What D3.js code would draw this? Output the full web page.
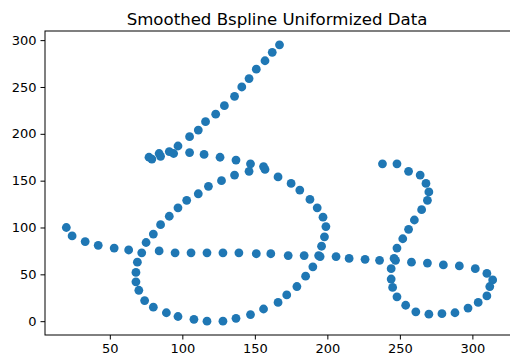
<!DOCTYPE html>
<html>
<head>
<meta charset="utf-8">
<script src="https://cdn.jsdelivr.net/npm/d3@7"></script>
<style>
  body { margin: 0; background: #fff; }
  .axis text { font-family: "DejaVu Sans", sans-serif; font-size: 13px; fill: #000; }
  .axis path, .axis line { stroke: #000; stroke-width: 1; }
  .title { font-family: "DejaVu Sans", sans-serif; font-size: 16.6px; fill: #000; }
</style>
</head>
<body>
<div id="chart"></div>
<script>
// points of the smoothed bspline
const xs = [
  167, 162, 157, 151, 146, 141, 136, 129, 123, 116, 111, 105, 97, 91, 84, 77, 79, 85, 94, 105,
  115, 126, 137, 147, 156, 166, 175, 181, 188, 193, 197, 199, 198, 196, 194, 190, 185, 179, 172, 166,
  156, 147, 137, 128, 117, 108, 97, 89, 80, 74, 70, 68, 68, 69, 72, 75, 80, 85, 91, 97,
  103, 111, 118, 127, 136, 146, 157, 63, 53, 42, 33, 24, 20, 84, 95, 106, 117, 128, 139, 151,
  161, 173, 184, 195, 206, 215, 226, 236, 247, 258, 269, 280, 291, 302, 310, 314, 312, 310, 304, 297,
  288, 279, 270, 261, 254, 248, 245, 244, 244, 246, 248, 252, 256, 260, 265, 269, 270, 268, 264, 256,
  248, 238
];
const ys = [
  295, 287, 278, 269, 259, 250, 240, 230, 221, 213, 204, 197, 187, 181, 179, 175, 173, 176, 179, 180,
  178, 175, 172, 168, 165, 154, 147, 140, 130, 121, 111, 101, 90, 80, 70, 58, 48, 37, 28, 20,
  13, 7, 3, 0, 0, 2, 5, 9, 15, 22, 33, 42, 52, 63, 73, 84, 93, 103, 112, 121,
  129, 136, 144, 150, 156, 160, 162, 76, 78, 81, 85, 91, 100, 75, 73, 73, 73, 73, 73, 72,
  72, 70, 70, 69, 69, 67, 66, 65, 65, 63, 62, 60, 59, 56, 51, 44, 37, 27, 20, 14,
  9, 8, 7.5, 10, 17, 26, 36, 45, 56, 67, 78, 88, 98, 108, 119, 129, 138, 147, 156, 160,
  168, 168
];
const xTicks = [50, 100, 150, 200, 250, 300];
const yTicks = [0, 50, 100, 150, 200, 250, 300];
const title = 'Smoothed Bspline Uniformized Data';

const width = 510, height = 362;
const margin = {top: 31, left: 45};
const plotWidth = 469, plotHeight = 304;

const data = xs.map((x, i) => [x, ys[i]]);

// matplotlib style 5% padding around the data
function padded(values) {
  const lo = d3.min(values), hi = d3.max(values), pad = (hi - lo) * 0.05;
  return [lo - pad, hi + pad];
}

const svg = d3.select('#chart').append('svg')
  .attr('width', width)
  .attr('height', height);

svg.append('rect').attr('width', width).attr('height', height).attr('fill', '#fff');

const x = d3.scaleLinear().domain(padded(xs)).range([0, plotWidth]);
const y = d3.scaleLinear().domain(padded(ys)).range([plotHeight, 0]);

const plot = svg.append('g')
  .attr('transform', `translate(${margin.left}, ${margin.top})`);

plot.selectAll('circle')
  .data(data)
  .enter().append('circle')
  .attr('cx', d => x(d[0]))
  .attr('cy', d => y(d[1]))
  .attr('r', 4.4)
  .attr('fill', '#1f77b4');

// frame
plot.append('rect')
  .attr('width', plotWidth)
  .attr('height', plotHeight)
  .attr('fill', 'none')
  .attr('stroke', '#000')
  .attr('stroke-width', 1);

plot.append('g')
  .attr('class', 'axis')
  .attr('transform', `translate(0, ${plotHeight})`)
  .call(d3.axisBottom(x).tickValues(xTicks).tickSize(4.5).tickPadding(4).tickSizeOuter(0))
  .call(g => g.select('.domain').remove());

plot.append('g')
  .attr('class', 'axis')
  .call(d3.axisLeft(y).tickValues(yTicks).tickSize(4.5).tickPadding(4).tickSizeOuter(0))
  .call(g => g.select('.domain').remove());

svg.append('text')
  .attr('class', 'title')
  .attr('x', 277)
  .attr('y', 24.5)
  .attr('text-anchor', 'middle')
  .text(title);
</script>
</body>
</html>
